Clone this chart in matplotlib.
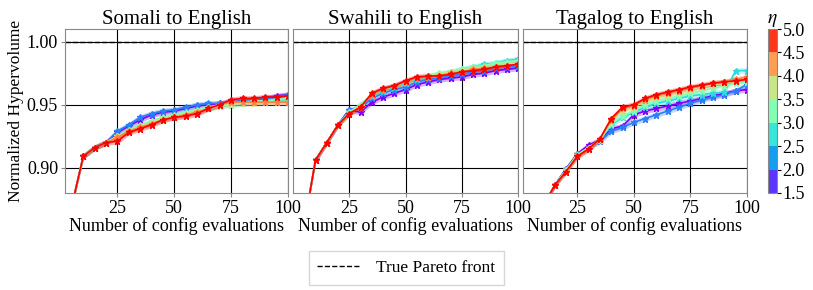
import numpy as np
import matplotlib
matplotlib.use("Agg")
import matplotlib.pyplot as plt
from matplotlib.colors import ListedColormap, BoundaryNorm
from matplotlib.lines import Line2D

plt.rcParams['font.family'] = ['Liberation Serif', 'DejaVu Serif']
plt.rcParams['mathtext.fontset'] = 'stix'

titles = ["Somali to English", "Swahili to English", "Tagalog to English"]
etas = [1.75, 2.25, 2.75, 3.25, 3.75, 4.25, 4.75]
eta_bounds = [1.5, 2.0, 2.5, 3.0, 3.5, 4.0, 4.5, 5.0]
evals = [1, 5, 10, 15, 20, 25, 30, 35, 40, 45, 50, 55, 60, 65, 70, 75, 80, 85, 90, 95, 100]
xlims = [(2, 100), (0, 100), (1, 100)]

# Somali to English (one row per eta, low -> high)
somali = [
    [0.80, 0.87, 0.909, 0.916, 0.920, 0.928, 0.933, 0.938, 0.942, 0.944, 0.945, 0.947, 0.949, 0.950, 0.951, 0.952, 0.953, 0.954, 0.955, 0.957, 0.958],
    [0.80, 0.87, 0.909, 0.916, 0.920, 0.929, 0.934, 0.940, 0.943, 0.945, 0.946, 0.948, 0.950, 0.951, 0.951, 0.952, 0.953, 0.954, 0.955, 0.956, 0.958],
    [0.80, 0.87, 0.909, 0.916, 0.920, 0.925, 0.930, 0.933, 0.936, 0.939, 0.941, 0.943, 0.945, 0.947, 0.949, 0.950, 0.951, 0.952, 0.953, 0.954, 0.954],
    [0.80, 0.87, 0.909, 0.916, 0.920, 0.925, 0.930, 0.934, 0.937, 0.940, 0.942, 0.944, 0.946, 0.948, 0.950, 0.951, 0.952, 0.953, 0.953, 0.954, 0.955],
    [0.80, 0.87, 0.909, 0.916, 0.920, 0.925, 0.929, 0.933, 0.936, 0.939, 0.941, 0.943, 0.945, 0.947, 0.949, 0.950, 0.951, 0.951, 0.952, 0.952, 0.952],
    [0.80, 0.87, 0.909, 0.916, 0.920, 0.924, 0.929, 0.932, 0.935, 0.938, 0.940, 0.942, 0.944, 0.947, 0.950, 0.952, 0.952, 0.952, 0.952, 0.952, 0.952],
    [0.80, 0.87, 0.909, 0.916, 0.920, 0.921, 0.928, 0.931, 0.934, 0.938, 0.940, 0.941, 0.943, 0.947, 0.950, 0.954, 0.955, 0.955, 0.956, 0.956, 0.957],
]
swahili = [
    [0.78, 0.855, 0.906, 0.920, 0.934, 0.946, 0.944, 0.952, 0.956, 0.959, 0.962, 0.966, 0.968, 0.970, 0.971, 0.972, 0.974, 0.975, 0.977, 0.978, 0.979],
    [0.78, 0.855, 0.906, 0.920, 0.934, 0.946, 0.947, 0.955, 0.959, 0.962, 0.964, 0.968, 0.970, 0.971, 0.973, 0.974, 0.976, 0.977, 0.979, 0.980, 0.981],
    [0.78, 0.855, 0.906, 0.920, 0.934, 0.944, 0.950, 0.957, 0.961, 0.964, 0.967, 0.970, 0.972, 0.974, 0.976, 0.978, 0.980, 0.982, 0.983, 0.985, 0.986],
    [0.78, 0.855, 0.906, 0.920, 0.934, 0.944, 0.950, 0.958, 0.962, 0.965, 0.968, 0.971, 0.973, 0.975, 0.976, 0.978, 0.980, 0.981, 0.983, 0.984, 0.985],
    [0.78, 0.855, 0.906, 0.920, 0.934, 0.943, 0.949, 0.958, 0.962, 0.965, 0.968, 0.971, 0.973, 0.974, 0.976, 0.977, 0.979, 0.980, 0.981, 0.982, 0.983],
    [0.78, 0.855, 0.906, 0.920, 0.934, 0.943, 0.948, 0.958, 0.962, 0.965, 0.968, 0.971, 0.972, 0.973, 0.975, 0.976, 0.978, 0.979, 0.980, 0.981, 0.982],
    [0.78, 0.855, 0.906, 0.920, 0.934, 0.943, 0.948, 0.959, 0.963, 0.965, 0.969, 0.972, 0.9725, 0.973, 0.974, 0.976, 0.977, 0.978, 0.980, 0.981, 0.982],
]
tagalog = [
    [0.80, 0.84, 0.87, 0.886, 0.899, 0.911, 0.918, 0.922, 0.931, 0.933, 0.942, 0.945, 0.947, 0.949, 0.951, 0.953, 0.955, 0.957, 0.959, 0.961, 0.962],
    [0.80, 0.84, 0.87, 0.886, 0.899, 0.911, 0.916, 0.921, 0.929, 0.932, 0.936, 0.939, 0.942, 0.945, 0.948, 0.951, 0.954, 0.956, 0.958, 0.961, 0.966],
    [0.80, 0.84, 0.87, 0.886, 0.898, 0.910, 0.916, 0.922, 0.934, 0.940, 0.944, 0.948, 0.951, 0.953, 0.955, 0.957, 0.958, 0.959, 0.960, 0.977, 0.977],
    [0.80, 0.84, 0.87, 0.886, 0.898, 0.910, 0.916, 0.922, 0.935, 0.941, 0.945, 0.950, 0.953, 0.955, 0.957, 0.959, 0.961, 0.963, 0.965, 0.967, 0.968],
    [0.80, 0.84, 0.87, 0.886, 0.898, 0.910, 0.916, 0.922, 0.937, 0.945, 0.948, 0.953, 0.956, 0.958, 0.960, 0.962, 0.964, 0.966, 0.967, 0.969, 0.971],
    [0.80, 0.84, 0.87, 0.886, 0.897, 0.909, 0.915, 0.923, 0.938, 0.947, 0.949, 0.954, 0.957, 0.959, 0.961, 0.963, 0.965, 0.967, 0.968, 0.970, 0.972],
    [0.80, 0.84, 0.87, 0.886, 0.897, 0.909, 0.915, 0.923, 0.939, 0.948, 0.950, 0.955, 0.958, 0.960, 0.962, 0.964, 0.9655, 0.967, 0.968, 0.969, 0.970],
]
band_halfwidth = 0.0022
panels = [somali, swahili, tagalog]

line_colors = plt.get_cmap('rainbow')(np.linspace(0.0, 1.0, len(etas)))
cmap = ListedColormap(plt.get_cmap('rainbow')(np.linspace(0.07, 0.93, 7)))
norm = BoundaryNorm(eta_bounds, cmap.N)

fig = plt.figure(figsize=(8.13, 2.90), dpi=100)
lefts = [0.080, 0.3604, 0.6433]
widths = [0.2743, 0.2768, 0.2755]
axes = [fig.add_axes([l, 0.3345, w, 0.5655]) for l, w in zip(lefts, widths)]

x = np.array(evals)
for i, (ax, data) in enumerate(zip(axes, panels)):
    for c, series in zip(line_colors, data):
        y = np.array(series)
        ax.fill_between(x, y - band_halfwidth, y + band_halfwidth, color=c, alpha=0.3, lw=0)
        ax.plot(x, y, color=c, lw=1.2, marker='*', ms=4.5)
    ax.axhline(1.0, color='black', ls='--', lw=1.0)
    ax.set_xlim(*xlims[i])
    ax.set_ylim(0.88, 1.01)
    ax.set_xticks([25, 50, 75, 100])
    ax.set_yticks([0.90, 0.95, 1.00])
    ax.grid(True, color='black', lw=0.8)
    ax.set_axisbelow(True)
    ax.tick_params(labelsize=13, length=3, color='#888888', pad=2)
    for s in ax.spines.values():
        s.set_color('#888888')
    ax.set_title(titles[i], fontsize=15, pad=3)
    ax.set_xlabel("Number of config evaluations", fontsize=13, labelpad=0)
    if i == 0:
        ax.set_ylabel("Normalized Hypervolume", fontsize=12.5, labelpad=2)
    else:
        ax.set_yticklabels([])
        ax.tick_params(axis='y', length=0)

cax = fig.add_axes([0.9446, 0.3345, 0.011, 0.5655])
sm = matplotlib.cm.ScalarMappable(cmap=cmap, norm=norm)
cb = fig.colorbar(sm, cax=cax, ticks=eta_bounds)
cb.ax.set_yticklabels([f"{b:.1f}" for b in eta_bounds])
cb.ax.tick_params(labelsize=13, length=3, pad=1)
cb.outline.set_edgecolor('#888888')
cb.ax.set_title(r"$\eta$", fontsize=14, pad=3)

handle = Line2D([], [], color='black', ls='--', lw=1.0)
fig.legend([handle], ["True Pareto front"], loc='center', bbox_to_anchor=(0.5, 0.076),
           fontsize=12.5, frameon=True, edgecolor='#cccccc', fancybox=False,
           handlelength=2.4, handletextpad=1.0, borderpad=0.5)

fig.savefig("out.png", dpi=100)
